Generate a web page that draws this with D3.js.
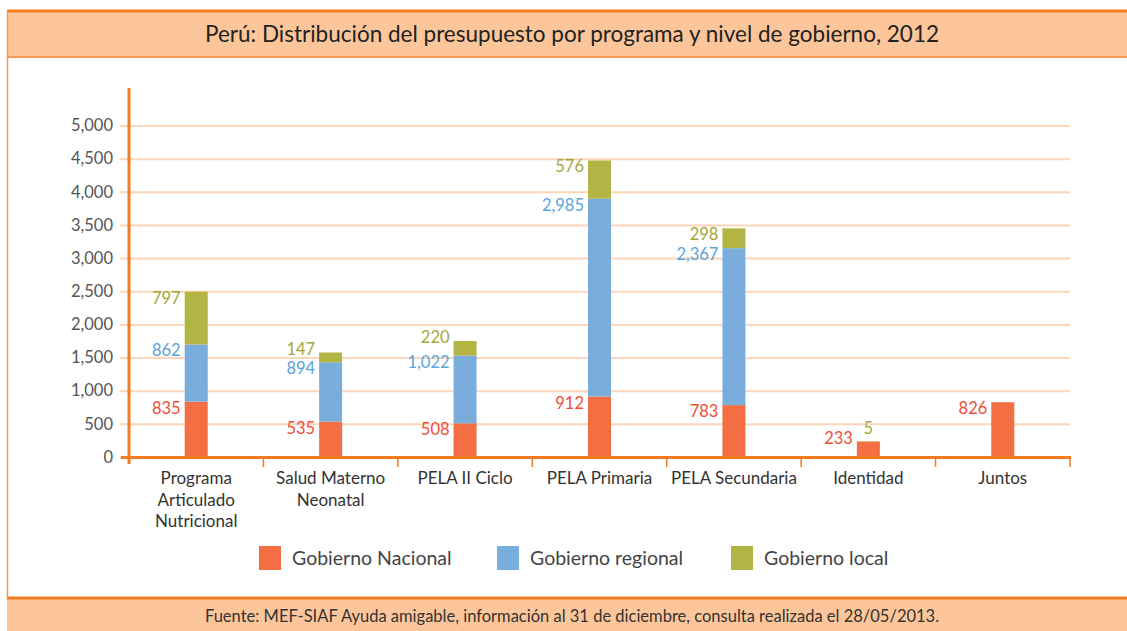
<!DOCTYPE html>
<meta charset="utf-8">
<script src="https://d3js.org/d3.v7.min.js"></script>
<style>
  body { margin: 0; background: #fff; }
  text { font-family: Lato, "Open Sans", sans-serif; }
</style>
<body>
<div id="my_visual"></div>
<script>

// data
var categories = [["Programa", "Articulado", "Nutricional"], ["Salud Materno", "Neonatal"], ["PELA II Ciclo"],
                  ["PELA Primaria"], ["PELA Secundaria"], ["Identidad"], ["Juntos"]];
var nacional = [835, 535, 508, 912, 783, 233, 826];
var regional = [862, 894, 1022, 2985, 2367, 0, 0];
var local    = [797, 147, 220, 576, 298, 5, 0];
var seriesNames = ["Gobierno Nacional", "Gobierno regional", "Gobierno local"];
var yTicks = [0, 500, 1000, 1500, 2000, 2500, 3000, 3500, 4000, 4500, 5000];

var colors = ["#f36e43", "#79addb", "#b2b444"];
var labelColors = ["#f04e37", "#5aa4dc", "#a2a83a"];
var orange = "#f47b20", peach = "#fdc69a";

var W = 1127, H = 631;
var svg = d3.select("#my_visual").append("svg")
    .attr("width", W).attr("height", H);

// frame: title band, left border, footer band
svg.append("rect").attr("x", 7).attr("y", 12).attr("width", W).attr("height", 45).attr("fill", peach);
svg.append("line").attr("x1", 7).attr("x2", W).attr("y1", 11).attr("y2", 11)
    .attr("stroke", orange).attr("stroke-width", 3);
svg.append("line").attr("x1", 7).attr("x2", W).attr("y1", 57).attr("y2", 57)
    .attr("stroke", "#f59a55").attr("stroke-width", 2);
svg.append("line").attr("x1", 7.5).attr("x2", 7.5).attr("y1", 10).attr("y2", 600)
    .attr("stroke", "#f59a55").attr("stroke-width", 1.5);
svg.append("rect").attr("x", 7).attr("y", 599).attr("width", W).attr("height", 32).attr("fill", peach);
svg.append("line").attr("x1", 7).attr("x2", W).attr("y1", 598).attr("y2", 598)
    .attr("stroke", orange).attr("stroke-width", 3);

svg.append("text").attr("x", 572).attr("y", 42).attr("text-anchor", "middle")
    .attr("font-size", 22.5).attr("fill", "#222")
    .text("Perú: Distribución del presupuesto por programa y nivel de gobierno, 2012");
svg.append("text").attr("x", 572).attr("y", 622).attr("text-anchor", "middle")
    .attr("font-size", 16.5).attr("fill", "#333")
    .text("Fuente: MEF-SIAF Ayuda amigable, información al 31 de diciembre, consulta realizada el 28/05/2013.");

// scales
var x = d3.scaleBand().domain(d3.range(categories.length)).range([129, 1070]);
var y = d3.scaleLinear().domain([0, 5000]).range([457, 125.5]);
var barW = 23;

// gridlines + y labels
svg.append("g").attr("transform", "translate(129,0)")
    .call(d3.axisLeft(y).tickValues(yTicks).tickSize(-941).tickPadding(16).tickFormat(d3.format(",")))
    .call(function(g) {
      g.select(".domain").remove();
      g.selectAll(".tick line").attr("stroke", "#fcd6b8").attr("stroke-width", 2).attr("x1", -9);
      g.selectAll(".tick text").attr("font-size", 16.5).attr("fill", "#555")
        .attr("font-family", "Lato, 'Open Sans', sans-serif");
    });

// stacked bars
var stackData = categories.map(function(c, i) { return {i: i, s: [nacional[i], regional[i], local[i]]}; });
var stack = d3.stack().keys([0, 1, 2]).value(function(d, k) { return d.s[k]; });
var layers = stack(stackData);

layers.forEach(function(layer, k) {
  layer.forEach(function(seg, i) {
    var v = seg[1] - seg[0];
    if (v <= 0) return;
    var cx = x(i) + x.bandwidth() / 2;
    var top = y(seg[1]), h = y(seg[0]) - y(seg[1]);
    svg.append("rect").attr("x", cx - barW / 2).attr("y", top)
        .attr("width", barW).attr("height", h).attr("fill", colors[k]);
    var t = svg.append("text").attr("font-size", 16.5).attr("fill", labelColors[k]).text(d3.format(",")(v));
    if (h < 3) {
      t.attr("x", cx).attr("y", top - 7).attr("text-anchor", "middle");
    } else {
      t.attr("x", cx - barW / 2 - 4).attr("y", h < 16 ? top + 2 : top + 12).attr("text-anchor", "end");
    }
  });
});

// axes lines
svg.append("line").attr("x1", 129).attr("x2", 129).attr("y1", 88).attr("y2", 464)
    .attr("stroke", orange).attr("stroke-width", 3);
svg.append("line").attr("x1", 121).attr("x2", 1071).attr("y1", 457.5).attr("y2", 457.5)
    .attr("stroke", orange).attr("stroke-width", 3);
svg.append("g").selectAll("line").data(d3.range(1, categories.length + 1)).enter().append("line")
    .attr("x1", function(i) { return i < categories.length ? x(i) : x(i - 1) + x.bandwidth(); })
    .attr("x2", function(i) { return i < categories.length ? x(i) : x(i - 1) + x.bandwidth(); })
    .attr("y1", 457).attr("y2", 467).attr("stroke", orange).attr("stroke-width", 1.5);

// category labels
categories.forEach(function(lines, i) {
  var t = svg.append("text").attr("text-anchor", "middle").attr("font-size", 17).attr("fill", "#333")
      .attr("x", x(i) + x.bandwidth() / 2).attr("y", 484);
  lines.forEach(function(l, j) {
    t.append("tspan").attr("x", x(i) + x.bandwidth() / 2).attr("dy", j ? 21.5 : 0).text(l);
  });
});

// legend
var legendX = [259, 497, 731];
seriesNames.forEach(function(n, k) {
  svg.append("rect").attr("x", legendX[k]).attr("y", 546).attr("width", 22).attr("height", 24).attr("fill", colors[k]);
  svg.append("text").attr("x", legendX[k] + 33).attr("y", 565).attr("font-size", 19.5).attr("fill", "#444").text(n);
});

</script>
</body>
